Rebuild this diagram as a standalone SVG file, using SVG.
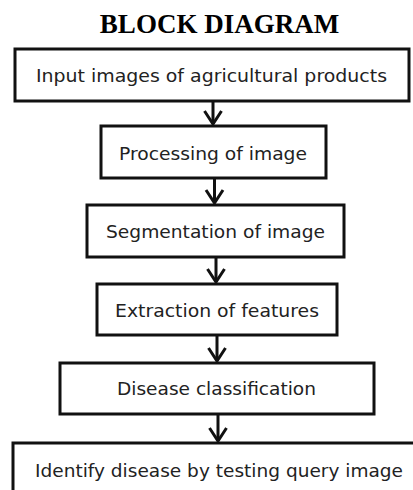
<svg xmlns="http://www.w3.org/2000/svg" width="413" height="490" viewBox="0 0 413 490">
<style>
.box{fill:#fff;stroke:#111;stroke-width:3}
.lbl{font-family:"DejaVu Sans","Verdana",sans-serif;font-size:17.5px;fill:#222;text-anchor:middle}
.title{font-family:"Liberation Serif","Times New Roman",serif;font-weight:bold;font-size:27px;fill:#000;text-anchor:middle}
.conn line,.conn path{stroke:#111;stroke-width:3;fill:none}
</style>
<rect width="413" height="490" fill="#fff"/>
<text class="title" x="219.5" y="33">BLOCK DIAGRAM</text>
<g id="n1"><rect class="box" x="15" y="49" width="394" height="52"/><text class="lbl" x="211.5" y="82" textLength="351" lengthAdjust="spacingAndGlyphs">Input images of agricultural products</text></g>
<g id="n2"><rect class="box" x="101" y="126" width="225" height="52"/><text class="lbl" x="213" y="160" textLength="188" lengthAdjust="spacingAndGlyphs">Processing of image</text></g>
<g id="n3"><rect class="box" x="87" y="205" width="257" height="52"/><text class="lbl" x="215.5" y="238" textLength="219" lengthAdjust="spacingAndGlyphs">Segmentation of image</text></g>
<g id="n4"><rect class="box" x="97" y="284" width="240" height="51"/><text class="lbl" x="217" y="317" textLength="204" lengthAdjust="spacingAndGlyphs">Extraction of features</text></g>
<g id="n5"><rect class="box" x="60" y="363" width="314" height="51"/><text class="lbl" x="216.5" y="395" textLength="199" lengthAdjust="spacingAndGlyphs">Disease classification</text></g>
<g id="n6"><rect class="box" x="13" y="443" width="420" height="60"/><text class="lbl" x="219" y="477" textLength="368" lengthAdjust="spacingAndGlyphs">Identify disease by testing query image</text></g>
<g class="conn">
<line x1="213" y1="101" x2="213" y2="124"/><path d="M204.5 111 L213 124 L221.5 111"/>
<line x1="214.5" y1="178" x2="214.5" y2="203"/><path d="M206 190 L214.5 203 L223 190"/>
<line x1="216" y1="257" x2="216" y2="282"/><path d="M207.5 269 L216 282 L224.5 269"/>
<line x1="217" y1="335" x2="217" y2="361"/><path d="M208.5 348 L217 361 L225.5 348"/>
<line x1="218" y1="414" x2="218" y2="441"/><path d="M209.5 428 L218 441 L226.5 428"/>
</g>
</svg>
